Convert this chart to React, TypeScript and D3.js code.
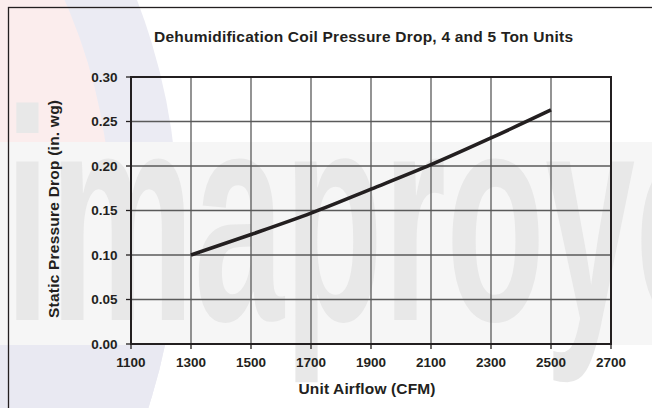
import * as d3 from 'd3';

// chart values
const airflow = [1300, 1500, 1700, 1900, 2100, 2300, 2500];
const pressureDrop = [0.1, 0.123, 0.147, 0.174, 0.2015, 0.2315, 0.263];

const xTicks = [1100, 1300, 1500, 1700, 1900, 2100, 2300, 2500, 2700];
const yTicks = [0, 0.05, 0.1, 0.15, 0.2, 0.25, 0.3];

const width = 652;
const height = 408;

const margin = { top: 77, right: 41, bottom: 64, left: 131 };

const font = '"Liberation Sans", Arial, Helvetica, sans-serif';
const ink = '#231f20';

function App() {
  const x = d3.scaleLinear().domain([1100, 2700]).range([margin.left, width - margin.right]);
  const y = d3.scaleLinear().domain([0, 0.3]).range([height - margin.bottom, margin.top]);

  const line = d3
    .line<number>()
    .x((d, i) => x(airflow[i]))
    .y((d) => y(d))
    .curve(d3.curveMonotoneX);

  const x0 = x.range()[0];
  const x1 = x.range()[1];
  const y0 = y.range()[0];
  const y1 = y.range()[1];

  // faint logo circle behind everything (watermark in the scan)
  const cx = -433;
  const cy = 220;

  return (
    <svg
      width={width}
      height={height}
      style={{ position: 'absolute', left: 0, top: 0, display: 'block', background: '#fff' }}
    >
      <defs>
        <clipPath id="outer">
          <circle cx={cx} cy={cy} r={611} />
        </clipPath>
      </defs>

      {/* watermark */}
      <g>
        <circle cx={cx} cy={cy} r={611} fill="#ebebf3" />
        <g clipPath="url(#outer)">
          <circle cx={cx} cy={cy} r={544} fill="#fbeded" />
          <rect x={0} y={330} width={220} height={90} fill="#e9e9f2" />
        </g>
        <rect x={0} y={142} width={width} height={203} fill="#f6f6f6" />
        <text
          x={5}
          y={320}
          fontFamily={font}
          fontWeight="bold"
          fontSize={300}
          textLength={729}
          lengthAdjust="spacingAndGlyphs"
          fill="#e8e8e8"
        >
          imaproyo
        </text>
      </g>

      {/* outer frame */}
      <rect x={8.5} y={7.5} width={650} height={420} fill="none" stroke={ink} strokeWidth={1.3} />

      {/* grid */}
      {xTicks.slice(1, -1).map((t) => (
        <line key={'gx' + t} x1={x(t)} x2={x(t)} y1={y0} y2={y1} stroke="#5a5a5a" strokeWidth={1.3} />
      ))}
      {yTicks.slice(1, -1).map((t) => (
        <line key={'gy' + t} x1={x0} x2={x1} y1={y(t)} y2={y(t)} stroke="#5a5a5a" strokeWidth={1.3} />
      ))}

      {/* ticks */}
      {yTicks.map((t) => (
        <line key={'ty' + t} x1={x0 - 5} x2={x0} y1={y(t)} y2={y(t)} stroke={ink} strokeWidth={1.3} />
      ))}
      {xTicks.map((t) => (
        <line key={'tx' + t} x1={x(t)} x2={x(t)} y1={y0} y2={y0 + 5} stroke={ink} strokeWidth={1.3} />
      ))}

      {/* plot frame */}
      <rect x={x0} y={y1} width={x1 - x0} height={y0 - y1} fill="none" stroke={ink} strokeWidth={2} />

      {/* curve */}
      <path d={line(pressureDrop) || ''} fill="none" stroke={ink} strokeWidth={3.6} />

      {/* tick labels */}
      {yTicks.map((t) => (
        <text
          key={'ly' + t}
          x={x0 - 13.5}
          y={y(t)}
          dy="0.36em"
          textAnchor="end"
          fontFamily={font}
          fontWeight="bold"
          fontSize={13.5}
          fill={ink}
        >
          {d3.format('.2f')(t)}
        </text>
      ))}
      {xTicks.map((t) => (
        <text
          key={'lx' + t}
          x={x(t)}
          y={366.7}
          textAnchor="middle"
          fontFamily={font}
          fontWeight="bold"
          fontSize={13.5}
          fill={ink}
        >
          {t}
        </text>
      ))}

      {/* titles */}
      <text
        x={154}
        y={41.7}
        fontFamily={font}
        fontWeight="bold"
        fontSize={15.5}
        textLength={419}
        lengthAdjust="spacing"
        fill={ink}
      >
        Dehumidification Coil Pressure Drop, 4 and 5 Ton Units
      </text>
      <text
        x={367}
        y={394.3}
        textAnchor="middle"
        fontFamily={font}
        fontWeight="bold"
        fontSize={15.5}
        textLength={137}
        lengthAdjust="spacing"
        fill={ink}
      >
        Unit Airflow (CFM)
      </text>
      <text
        transform={`translate(58.5, 209) rotate(-90)`}
        textAnchor="middle"
        fontFamily={font}
        fontWeight="bold"
        fontSize={15.5}
        textLength={218}
        lengthAdjust="spacing"
        fill={ink}
      >
        Static Pressure Drop (in. wg)
      </text>
    </svg>
  );
}

export default App;
